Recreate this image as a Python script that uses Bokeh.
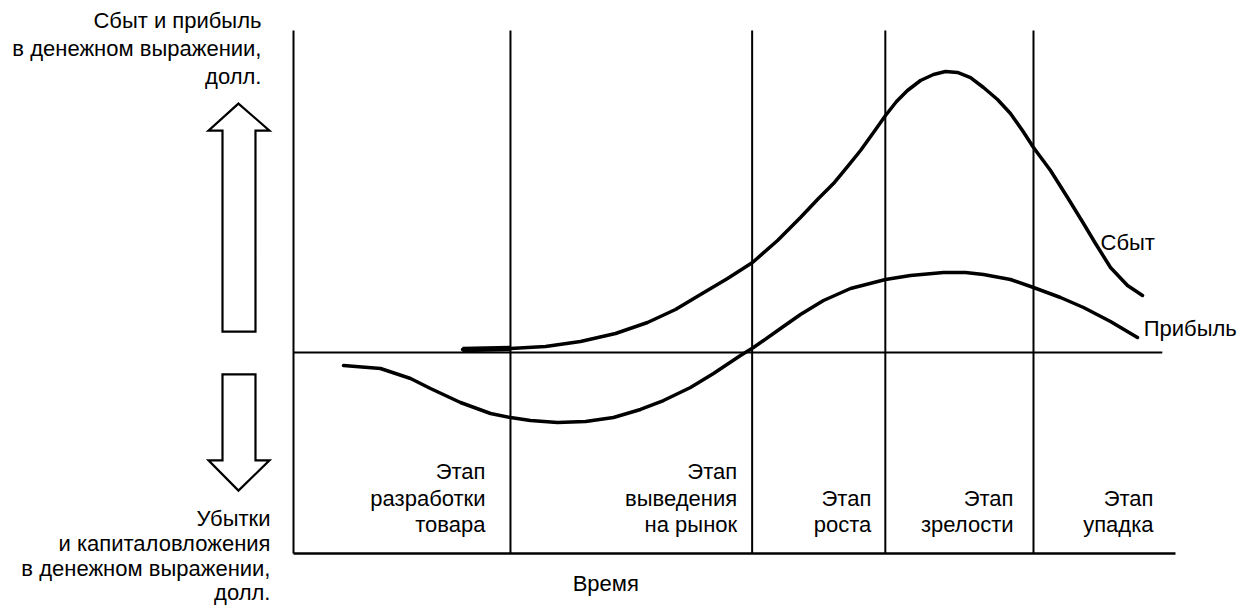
from bokeh.plotting import figure
from bokeh.models import Range1d
from bokeh.embed import file_html
from bokeh.resources import INLINE
from bokeh.core.properties import value

# ---------------- data (time units 0..10, money units) ----------------
sales_t = [1.916, 2.460, 2.857, 3.254, 3.651, 4.014, 4.331, 4.615, 4.921, 5.204,
           5.488, 5.748, 5.952, 6.122, 6.281, 6.429, 6.576, 6.712, 6.837, 6.961,
           7.109, 7.256, 7.392, 7.528, 7.676, 7.823, 7.982, 8.129, 8.265, 8.390,
           8.583, 8.776, 8.957, 9.093, 9.263, 9.456, 9.626]
sales_m = [0.93, 1.24, 1.86, 3.42, 5.90, 9.32, 13.35, 18.01, 22.98, 27.95,
           34.78, 41.93, 47.83, 52.48, 57.76, 62.73, 68.32, 73.60, 77.95, 81.37,
           84.47, 86.34, 87.27, 86.96, 85.40, 82.30, 78.57, 74.22, 68.94, 63.66,
           56.52, 48.14, 40.06, 33.85, 26.40, 20.81, 17.70]

profit_t = [0.567, 0.986, 1.327, 1.553, 1.893, 2.234, 2.460, 2.687, 2.993, 3.311,
            3.628, 3.934, 4.195, 4.501, 4.762, 5.068, 5.215, 5.522, 5.748, 6.009,
            6.315, 6.712, 6.995, 7.370, 7.619, 7.823, 8.129, 8.390, 8.696, 8.957,
            9.263, 9.569]
profit_m = [-4.04, -4.97, -8.07, -11.18, -15.53, -18.94, -20.19, -21.12, -21.74, -21.43,
            -20.19, -17.70, -14.91, -10.87, -6.52, -0.93, 1.55, 7.45, 11.80, 16.15,
            19.88, 22.67, 23.91, 24.84, 24.84, 24.22, 22.67, 20.19, 17.08, 13.98,
            9.63, 4.66]

stage_bounds = [2.46, 5.20, 6.71, 8.39, 10.0]
stage_labels = [["Этап", "разработки", "товара"],
                ["Этап", "выведения", "на рынок"],
                ["Этап", "роста"],
                ["Этап", "зрелости"],
                ["Этап", "упадка"]]
series_names = ["Сбыт", "Прибыль"]
y_top_lines = ["Сбыт и прибыль", "в денежном выражении,", "долл."]
y_bottom_lines = ["Убытки", "и капиталовложения", "в денежном выражении,", "долл."]
x_title = "Время"

# ---------------- layout ----------------
T_END = 10.0
M_TOP = 100.0
M_BASE = -62.4
ZERO_END = 9.85

FONT = value("Liberation Sans")
FS = "22px"

p = figure(width=1248, height=607, output_backend="svg", toolbar_location=None,
           x_range=Range1d(-3.3220, 10.8277), y_range=Range1d(-79.193, 109.317),
           x_axis_location=None, y_axis_location=None, min_border=0)
p.grid.visible = False
p.outline_line_color = None

# frame lines
p.segment(x0=[0], y0=[M_BASE], x1=[0], y1=[M_TOP], line_color="black", line_width=2)
p.segment(x0=[0], y0=[M_BASE], x1=[T_END], y1=[M_BASE], line_color="black", line_width=2.5)
p.segment(x0=[0], y0=[0], x1=[ZERO_END], y1=[0], line_color="black", line_width=2)
inner = stage_bounds[:-1]
p.segment(x0=inner, y0=[M_BASE] * len(inner), x1=inner, y1=[M_TOP] * len(inner),
          line_color="black", line_width=2)

# curves
p.line(sales_t, sales_m, line_color="black", line_width=3.5, line_join="round", line_cap="round")
p.line(sales_t[:2], sales_m[:2], line_color="black", line_width=5.5)
p.line(profit_t, profit_m, line_color="black", line_width=3.5, line_join="round", line_cap="round")

# block arrows (outline shapes)
up_arrow_t = [-0.624, -0.272, -0.431, -0.431, -0.805, -0.805, -0.964]
up_arrow_m = [77.3, 68.9, 68.9, 6.5, 6.5, 68.9, 68.9]
down_arrow_t = [-0.805, -0.431, -0.431, -0.272, -0.624, -0.964, -0.805]
down_arrow_m = [-6.8, -6.8, -33.5, -33.5, -42.9, -33.5, -33.5]
p.patch(up_arrow_t, up_arrow_m, fill_color="white", line_color="black", line_width=2.2, line_join="miter")
p.patch(down_arrow_t, down_arrow_m, fill_color="white", line_color="black", line_width=2.2, line_join="miter")

txt = dict(text_font=FONT, text_font_size=FS, text_color="black")

# left annotations
top_rows = [103.1, 94.4, 85.7]
p.text(x=[-0.363] * 3, y=top_rows, text=y_top_lines, text_align="right",
       text_baseline="middle", **txt)
bot_rows = [-51.4, -59.2, -67.0, -74.4]
p.text(x=[-0.261] * 4, y=bot_rows, text=y_bottom_lines, text_align="right",
       text_baseline="middle", **txt)

# stage labels
rows = [-37.0, -45.3, -53.4]
offsets = [-25, -15, -14, -20, -22]
for b, lab, off in zip(stage_bounds, stage_labels, offsets):
    ys = rows[-len(lab):]
    p.text(x=[b] * len(lab), y=ys, text=lab, text_align="right", text_baseline="middle",
           x_offset=off, **txt)

# series labels
p.text(x=[9.15], y=[34.2], text=[series_names[0]], text_align="left", text_baseline="middle", **txt)
p.text(x=[9.64], y=[7.5], text=[series_names[1]], text_align="left", text_baseline="middle", **txt)

# x title
p.text(x=[3.54], y=[-71.7], text=[x_title], text_align="center", text_baseline="middle", **txt)

open("out.html", "w").write(file_html(p, INLINE))
